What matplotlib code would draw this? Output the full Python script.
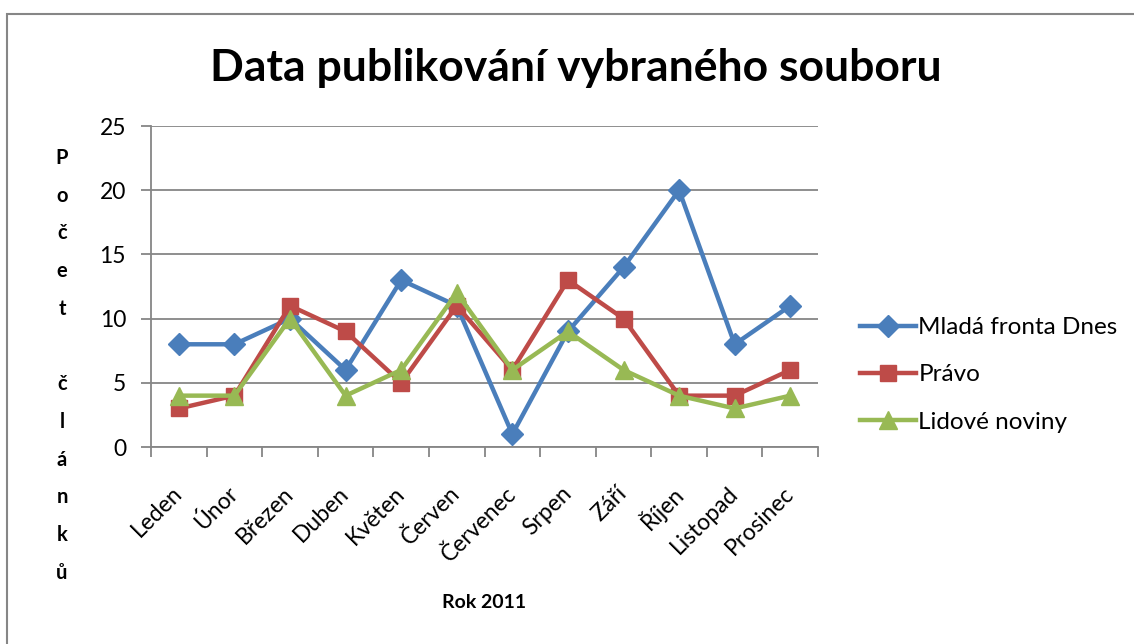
import matplotlib.pyplot as plt
from matplotlib.patches import Rectangle

months = ["Leden", "Únor", "Březen", "Duben", "Květen", "Červen",
          "Červenec", "Srpen", "Září", "Říjen", "Listopad", "Prosinec"]
mfd = [8, 8, 10, 6, 13, 11, 1, 9, 14, 20, 8, 11]
pravo = [3, 4, 11, 9, 5, 11, 6, 13, 10, 4, 4, 6]
lidovky = [4, 4, 10, 4, 6, 12, 6, 9, 6, 4, 3, 4]

plt.rcParams['font.family'] = ['Lato', 'DejaVu Sans']

fig = plt.figure(figsize=(11.34, 6.44), dpi=100)
ax = fig.add_axes([0.1332, 0.3059, 0.5882, 0.4984])

# outer chart border (only top/left visible in the original crop)
fig.patches.append(Rectangle((7 / 1134, -0.1), 1.2, 1 - 14 / 644 + 0.1,
                             transform=fig.transFigure, fill=False,
                             edgecolor='#868686', linewidth=1.5))

x = range(len(months))
ax.plot(x, mfd, color='#4A7EBB', lw=3.2, marker='D', ms=11,
        markerfacecolor='#4A7EBB', markeredgecolor='#4A7EBB', label='Mladá fronta Dnes')
ax.plot(x, pravo, color='#BE4B48', lw=3.2, marker='s', ms=12,
        markerfacecolor='#BE4B48', markeredgecolor='#BE4B48', label='Právo')
ax.plot(x, lidovky, color='#98B954', lw=3.2, marker='^', ms=13,
        markerfacecolor='#98B954', markeredgecolor='#98B954', label='Lidové noviny')

ax.set_xlim(-0.5, len(months) - 0.5)
ax.set_ylim(0, 25)
ax.set_yticks(range(0, 26, 5))
ax.yaxis.grid(True, color='#868686', lw=1.3)
ax.set_axisbelow(True)
for s in ['top', 'right']:
    ax.spines[s].set_visible(False)
for s in ['left', 'bottom']:
    ax.spines[s].set_color('#868686')
    ax.spines[s].set_linewidth(1.3)

ax.set_xticks([i - 0.5 for i in range(len(months) + 1)], minor=True)
ax.set_xticks(list(x))
ax.set_xticklabels(months, rotation=45, ha='right', va='center',
                   rotation_mode='anchor', fontsize=16.5)
ax.tick_params(axis='x', which='major', length=0, pad=31)
ax.tick_params(axis='x', which='minor', length=7, color='#868686', width=1.3)
ax.tick_params(axis='y', length=7, color='#868686', width=1.3, labelsize=16.5, pad=11)

fig.text(0.508, 0.894, "Data publikování vybraného souboru", ha='center', va='center',
         fontsize=32, fontweight='bold')
fig.text(484 / 1134, 1 - 603 / 644, "Rok 2011", ha='center', va='center',
         fontsize=14, fontweight='bold')

label = "Počet článků"
y0 = 158
for i, ch in enumerate(label):
    if ch != ' ':
        fig.text(62 / 1134, 1 - (y0 + i * 37.7) / 644, ch, ha='center', va='center',
                 fontsize=14.5, fontweight='bold')

leg = ax.legend(loc='center left', bbox_to_anchor=(1.03, 0.225), frameon=False,
                fontsize=17.5, handlelength=2.3, handletextpad=0.1, labelspacing=1.08)

fig.savefig('out.png', dpi=100)
